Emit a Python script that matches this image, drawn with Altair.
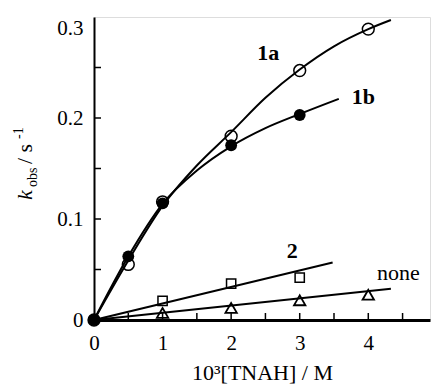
import altair as alt
import pandas as pd

# measured points
x_1a = [0, 0.5, 1, 2, 3, 4]
y_1a = [0, 0.055, 0.117, 0.182, 0.247, 0.288]
x_1b = [0, 0.5, 1, 2, 3]
y_1b = [0, 0.063, 0.1155, 0.173, 0.203]
x_2 = [1, 2, 3]
y_2 = [0.019, 0.036, 0.042]
x_none = [1, 2, 3, 4]
y_none = [0.007, 0.012, 0.0195, 0.025]

# fitted curves
curve_1a_x = [0, 0.5, 1, 1.5, 2, 2.5, 3, 3.5, 4, 4.33]
curve_1a_y = [0, 0.059, 0.113, 0.153, 0.186, 0.220, 0.248, 0.271, 0.288, 0.297]
curve_1b_x = [0, 0.5, 1, 1.5, 2, 2.5, 3, 3.57]
curve_1b_y = [0, 0.063, 0.115, 0.148, 0.172, 0.190, 0.204, 0.219]
line_2_x = [0, 3.48]
line_2_y = [0, 0.057]
line_none_x = [0, 4.33]
line_none_y = [0, 0.031]

# series labels
bold_labels = ["1a", "1b", "2"]
bold_x = [2.54, 3.93, 2.89]
bold_y = [0.2645, 0.221, 0.068]
plain_labels = ["none"]
plain_x = [4.44]
plain_y = [0.047]

x_tick_labels = [0, 1, 2, 3, 4]
y_tick_labels = [0, 0.1, 0.2, 0.3]
x_minor = [0.5, 1, 1.5, 2, 2.5, 3, 3.5, 4, 4.5]
y_minor = [0.05, 0.1, 0.15, 0.2, 0.25]

FONT = "Times New Roman, Liberation Serif, Times, serif"
W, H = 336, 303
XMAX = 4.9

xscale = alt.Scale(domain=[0, XMAX], nice=False, zero=False)
yscale = alt.Scale(domain=[0, 0.3], nice=False, zero=False)


def X(field="x"):
    return alt.X(f"{field}:Q", scale=xscale,
                 axis=alt.Axis(values=x_tick_labels, ticks=False, grid=False,
                               domainWidth=3, domainColor="black",
                               labelFont=FONT, labelFontSize=21, labelColor="black",
                               labelPadding=12, labelFlush=False,
                               title="10³[TNAH] / M", titleFont=FONT,
                               titleFontSize=22, titleFontWeight="normal",
                               titleColor="black", titlePadding=9))


def Y(field="y"):
    return alt.Y(f"{field}:Q", scale=yscale,
                 axis=alt.Axis(values=y_tick_labels, ticks=False, grid=False,
                               domainWidth=2, domainColor="black",
                               labelFont=FONT, labelFontSize=21, labelColor="black",
                               labelPadding=11, labelFlush=False,
                               labelBaseline={"condition": {"test": "datum.value >= 0.29",
                                                            "value": "top"},
                                              "value": "middle"},
                               labelExpr="datum.value == 0 ? '0' : format(datum.value, '.1f')",
                               title=None))


def df(xs, ys):
    return pd.DataFrame({"x": xs, "y": ys})


layers = []

# curves
for cx, cy in [(curve_1a_x, curve_1a_y), (curve_1b_x, curve_1b_y),
               (line_2_x, line_2_y), (line_none_x, line_none_y)]:
    layers.append(alt.Chart(df(cx, cy)).mark_line(
        color="black", strokeWidth=2, interpolate="monotone").encode(x=X(), y=Y()))

# markers
layers.append(alt.Chart(df(x_1a, y_1a)).mark_point(
    shape="circle", size=140, filled=False, color="black", strokeWidth=1.5,
    opacity=1).encode(x=X(), y=Y()))
layers.append(alt.Chart(df(x_1b, y_1b)).mark_point(
    shape="circle", size=140, filled=True, color="black", opacity=1).encode(x=X(), y=Y()))
layers.append(alt.Chart(df(x_2, y_2)).mark_point(
    shape="square", size=85, filled=False, color="black", strokeWidth=1.5,
    opacity=1).encode(x=X(), y=Y()))
layers.append(alt.Chart(df(x_none, y_none)).mark_point(
    shape="triangle-up", size=130, filled=False, color="black", strokeWidth=1.8,
    opacity=1).encode(x=X(), y=Y()))

# minor ticks (inside)
layers.append(alt.Chart(pd.DataFrame({"x": x_minor})).mark_rule(
    color="black", strokeWidth=1.5).encode(x=X(), y=alt.value(H), y2=alt.value(H - 7)))
layers.append(alt.Chart(pd.DataFrame({"y": y_minor})).mark_rule(
    color="black", strokeWidth=1.5).encode(y=Y(), x=alt.value(0), x2=alt.value(7)))

# series labels
layers.append(alt.Chart(pd.DataFrame({"x": bold_x, "y": bold_y, "t": bold_labels})).mark_text(
    font=FONT, fontSize=22, fontWeight="bold", color="black", align="center",
    baseline="middle").encode(x=X(), y=Y(), text="t:N"))
layers.append(alt.Chart(pd.DataFrame({"x": plain_x, "y": plain_y, "t": plain_labels})).mark_text(
    font=FONT, fontSize=22, color="black", align="center",
    baseline="middle").encode(x=X(), y=Y(), text="t:N"))

# y axis title pieces: k_obs / s^-1 (rotated)
one = pd.DataFrame({"a": [0]})
title_parts = [
    ("k", 22, "italic", -62, 183),
    ("obs", 14, "normal", -57, 170),
    ("/ s", 22, "normal", -62, 147),
    ("-1", 14, "normal", -71, 122),
]
for txt, fs, style, px, py in title_parts:
    layers.append(alt.Chart(one).mark_text(
        text=txt, font=FONT, fontSize=fs, fontStyle=style, color="black",
        angle=270, align="left", baseline="alphabetic").encode(
        x=alt.value(px), y=alt.value(py)))

chart = alt.layer(*layers).properties(
    width=W, height=H,
    autosize=alt.AutoSizeParams(type="none"),
    padding={"left": 86, "top": 9, "right": 1, "bottom": 64},
).configure_view(stroke="black", strokeWidth=2).configure(background="white")

chart.save("out.html", embed_options={"renderer": "svg", "actions": False})
